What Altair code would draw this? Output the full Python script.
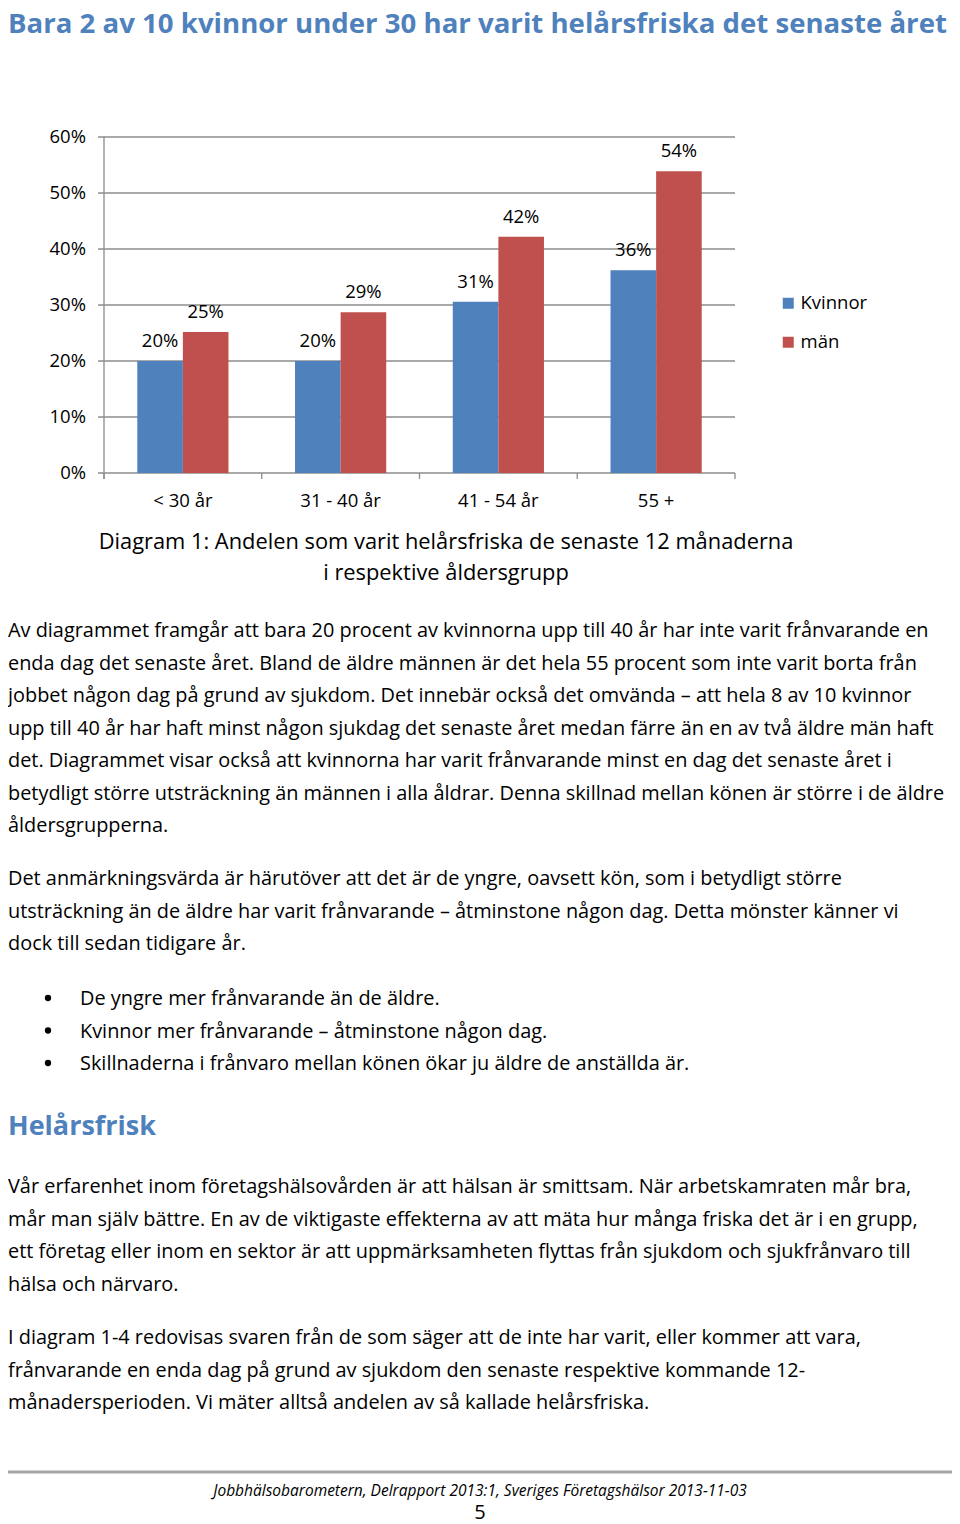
import altair as alt
import pandas as pd

# ---------------- data ----------------
categories = ["< 30 år", "31 - 40 år", "41 - 54 år", "55 +"]
series = ["Kvinnor", "män"]
kvinnor = [20.0, 20.0, 30.6, 36.2]
man = [25.2, 28.7, 42.2, 53.9]
y_ticks = [0, 10, 20, 30, 40, 50, 60]
colors = ["#4F81BD", "#C0504D"]

title_text = "Bara 2 av 10 kvinnor under 30 har varit helårsfriska det senaste året"
caption_lines = [
    "Diagram 1: Andelen som varit helårsfriska de senaste 12 månaderna",
    "i respektive åldersgrupp",
]
para1 = [
    "Av diagrammet framgår att bara 20 procent av kvinnorna upp till 40 år har inte varit frånvarande en",
    "enda dag det senaste året.  Bland de äldre männen är det hela 55 procent som inte varit borta från",
    "jobbet någon dag på grund av sjukdom.  Det innebär också det omvända – att hela 8 av 10 kvinnor",
    "upp till 40 år har haft minst någon sjukdag det senaste året medan färre än en av två äldre män haft",
    "det. Diagrammet visar också att kvinnorna har varit frånvarande minst en dag det senaste året i",
    "betydligt större utsträckning än männen i alla åldrar. Denna skillnad mellan könen är större i de äldre",
    "åldersgrupperna.",
]
para2 = [
    "Det anmärkningsvärda är härutöver att det är de yngre, oavsett kön, som i betydligt större",
    "utsträckning än de äldre har varit frånvarande – åtminstone någon dag. Detta mönster känner vi",
    "dock till sedan tidigare år.",
]
bullets = [
    "De yngre mer frånvarande än de äldre.",
    "Kvinnor mer frånvarande – åtminstone någon dag.",
    "Skillnaderna i frånvaro mellan könen ökar ju äldre de anställda är.",
]
heading2 = "Helårsfrisk"
para3 = [
    "Vår erfarenhet inom företagshälsovården är att hälsan är smittsam. När arbetskamraten mår bra,",
    "mår man själv bättre. En av de viktigaste effekterna av att mäta hur många friska det är i en grupp,",
    "ett företag eller inom en sektor är att uppmärksamheten flyttas från sjukdom och sjukfrånvaro till",
    "hälsa och närvaro.",
]
para4 = [
    "I diagram 1-4 redovisas svaren från de som säger att de inte har varit, eller kommer att vara,",
    "frånvarande en enda dag på grund av sjukdom den senaste respektive kommande  12-",
    "månadersperioden. Vi mäter alltså andelen av så kallade helårsfriska.",
]
footer_text = "Jobbhälsobarometern, Delrapport 2013:1, Sveriges Företagshälsor 2013-11-03"
page_number = "5"

# ---------------- layout helpers ----------------
FONT = "Open Sans"
MARGIN = 8
W, H = 960 - 2 * MARGIN, 1524 - MARGIN
BODY = 19.9
CHART_FS = 18.5
LH = 32.5
LEFT = 8


def px(x):
    return x - MARGIN


def py(y):
    return y - MARGIN


one_row = alt.Data(values=[{"k": 1}])


def text_block(lines, x, y_base, size, lh=LH, color="#000000", weight="normal",
               style="normal", align="left"):
    return alt.Chart(one_row).mark_text(
        text=lines, font=FONT, fontSize=size, lineHeight=lh, align=align,
        baseline="alphabetic", color=color, fontWeight=weight, fontStyle=style,
    ).encode(x=alt.value(px(x)), y=alt.value(py(y_base)))


# ---------------- bar chart ----------------
rows = []
for i, c in enumerate(categories):
    rows.append({"cat": c, "serie": series[0], "val": kvinnor[i]})
    rows.append({"cat": c, "serie": series[1], "val": man[i]})
bars_df = pd.DataFrame(rows)
ticks_df = pd.DataFrame({"t": y_ticks})
cats_df = pd.DataFrame({"cat": categories})

xs = alt.Scale(domain=categories, range=[px(104), px(735)], paddingInner=0, paddingOuter=0)
xo = alt.Scale(domain=series, paddingInner=0, paddingOuter=0.73)
ys = alt.Scale(domain=[0, 60], range=[py(473), py(137)], nice=False)

grid_color = "#8C8C8C"

grid = alt.Chart(ticks_df).mark_rule(color=grid_color, strokeWidth=1.3).encode(
    y=alt.Y("t:Q", scale=ys, axis=None),
    x=alt.value(px(98)), x2=alt.value(px(735)),
)
ylabels = alt.Chart(ticks_df).transform_calculate(
    lab="datum.t + '%'"
).mark_text(font=FONT, fontSize=CHART_FS, align="right", baseline="middle", color="#000000").encode(
    y=alt.Y("t:Q", scale=ys, axis=None), x=alt.value(px(86)), text="lab:N",
)
yaxis_line = alt.Chart(one_row).mark_rule(color=grid_color, strokeWidth=1.3).encode(
    x=alt.value(px(104)), y=alt.value(py(137)), y2=alt.value(py(479)),
)
xticks = alt.Chart(cats_df).mark_rule(color=grid_color, strokeWidth=1.3).encode(
    x=alt.X("cat:N", scale=xs, sort=categories, axis=None, bandPosition=0),
    y=alt.value(py(473)), y2=alt.value(py(479)),
)
xtick_end = alt.Chart(one_row).mark_rule(color=grid_color, strokeWidth=1.3).encode(
    x=alt.value(px(735)), y=alt.value(py(473)), y2=alt.value(py(479)),
)
xlabels = alt.Chart(cats_df).mark_text(font=FONT, fontSize=CHART_FS, baseline="alphabetic", color="#000000").encode(
    x=alt.X("cat:N", scale=xs, sort=categories, axis=None, bandPosition=0.5),
    y=alt.value(py(507)), text="cat:N",
)

bars = alt.Chart(bars_df).mark_bar().encode(
    x=alt.X("cat:N", scale=xs, sort=categories, axis=None),
    xOffset=alt.XOffset("serie:N", scale=xo, sort=series),
    y=alt.Y("val:Q", scale=ys, axis=None),
    color=alt.Color(
        "serie:N",
        scale=alt.Scale(domain=series, range=colors),
        legend=alt.Legend(
            orient="none", legendX=px(779), legendY=py(294), title=None,
            symbolType="square", symbolSize=121, symbolStrokeWidth=0,
            labelFont=FONT, labelFontSize=CHART_FS, labelColor="#000000",
            labelOffset=3, rowPadding=20,
        ),
    ),
)
bar_labels = alt.Chart(bars_df).transform_calculate(
    lab="format(datum.val, '.0f') + '%'"
).mark_text(font=FONT, fontSize=CHART_FS, baseline="alphabetic", dy=-14, color="#000000").encode(
    x=alt.X("cat:N", scale=xs, sort=categories, axis=None),
    xOffset=alt.XOffset("serie:N", scale=xo, sort=series),
    y=alt.Y("val:Q", scale=ys, axis=None),
    text="lab:N",
)

# ---------------- document text ----------------
heading_color = "#4F81BD"
title = text_block(title_text, LEFT, 33, 27.6, color=heading_color, weight="bold")
caption = text_block(caption_lines, 446, 549, 21.85, lh=31, align="center")
p1 = text_block(para1, LEFT, 637, BODY)
p2 = text_block(para2, LEFT, 885, BODY)
bullet_dots = [
    alt.Chart(one_row).mark_circle(size=40, color="#000000", opacity=1).encode(
        x=alt.value(px(48)), y=alt.value(py(998 + k * LH)),
    )
    for k in range(len(bullets))
]
bl = text_block(bullets, 80, 1005, BODY)
h2 = text_block(heading2, LEFT, 1135, 27, color=heading_color, weight="bold")
p3 = text_block(para3, LEFT, 1193, BODY)
p4 = text_block(para4, LEFT, 1344, BODY)
footer_rule = alt.Chart(one_row).mark_rule(color="#A6A6A6", strokeWidth=3).encode(
    x=alt.value(px(LEFT)), x2=alt.value(px(956)), y=alt.value(py(1472)),
)
footer = text_block(footer_text, 480, 1496, 15.5, style="italic", align="center")
pnum = text_block(page_number, 480, 1519, 20, align="center")

chart = alt.layer(
    grid, yaxis_line, xticks, xtick_end, bars, bar_labels, ylabels, xlabels,
    title, caption, p1, p2, *bullet_dots, bl, h2, p3, p4, footer_rule, footer, pnum,
).properties(
    width=W, height=H, padding=0,
    autosize=alt.AutoSizeParams(type="none"),
    background="#FFFFFF",
).configure_view(strokeWidth=0)

chart.save("out.html", embed_options={"renderer": "svg", "actions": False})
